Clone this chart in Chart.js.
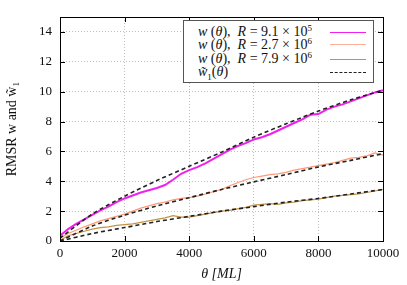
<!DOCTYPE html>
<html>
<head>
<meta charset="utf-8">
<script src="https://cdn.jsdelivr.net/npm/chart.js@4/dist/chart.umd.min.js"></script>
<style>
  html, body { margin: 0; padding: 0; background: #fff; }
  #wrap { position: relative; width: 407px; height: 285px; }
  #legend {
    position: absolute; left: 183px; top: 20px; width: 189px; height: 61px;
    border: 1px solid #555; background: #fff;
    font-family: "Liberation Serif", serif; font-size: 14px; color: #111;
  }
  .row { position: absolute; left: 14px; height: 13px; line-height: 13px; white-space: nowrap; }
  .smp { position: absolute; left: 146px; width: 36px; height: 0; }
  sup { font-size: 9px; vertical-align: 5px; line-height: 0; }
</style>
</head>
<body>
<div id="wrap">
  <canvas id="c" width="407" height="285"></canvas>
  <div id="legend">
    <div class="row" style="top:4px"><i>w</i> (<i>θ</i>), &nbsp;<i>R</i> = 9.1 × 10<sup>5</sup></div>
    <div class="smp" style="top:11px;border-top:1.5px solid #f020f0"></div>
    <div class="row" style="top:17px"><i>w</i> (<i>θ</i>), &nbsp;<i>R</i> = 2.7 × 10<sup>6</sup></div>
    <div class="smp" style="top:23px;border-top:1.5px solid #ffb09a"></div>
    <div class="row" style="top:31px"><i>w</i> (<i>θ</i>), &nbsp;<i>R</i> = 7.9 × 10<sup>6</sup></div>
    <div class="smp" style="top:38px;border-top:1.5px solid #c39446"></div>
    <div class="row" style="top:44px"><i>w̃</i><sub style="font-size:9px">1</sub>(<i>θ</i>)</div>
    <div class="smp" style="top:51px;border-top:1.5px dashed #222"></div>
  </div>
</div>
<script>
// theta positions (ML) and RMSR values
const thetaA = [0,250,500,750,1000,1250,1500,1750,2000,2250,2500,2750,3000,3250,3500,3750,4000,4250,4500,4750,5000,5250,5500,5750,6000,6250,6500,6750,7000,7250,7500,7750,8000,8250,8500,8750,9000,9250,9500,9750,10000];
const wR1 = [0.35,0.8,1.15,1.45,1.75,2.05,2.3,2.6,2.85,3.05,3.25,3.4,3.55,3.75,4.1,4.5,4.75,4.95,5.2,5.5,5.8,6.1,6.35,6.55,6.8,6.95,7.15,7.4,7.65,7.9,8.15,8.45,8.5,8.8,9.0,9.15,9.35,9.55,9.75,9.95,10.1];
const wR2 = [0.2,0.5,0.72,0.95,1.15,1.35,1.5,1.65,1.8,2.0,2.2,2.35,2.5,2.6,2.75,2.85,2.9,3.0,3.15,3.3,3.45,3.7,3.9,4.1,4.25,4.35,4.45,4.5,4.6,4.75,4.85,4.95,5.05,5.15,5.25,5.4,5.55,5.6,5.7,5.9,5.75];
const wR3 = [0.05,0.35,0.5,0.65,0.8,0.9,0.95,1.05,1.1,1.15,1.25,1.35,1.45,1.55,1.7,1.6,1.6,1.7,1.8,1.9,2.0,2.05,2.15,2.25,2.4,2.45,2.5,2.45,2.55,2.6,2.7,2.75,2.8,2.9,3.0,3.05,3.1,3.15,3.25,3.35,3.45];

const thetaB = [0,1000,2000,3000,4000,5000,6000,7000,8000,9000,10000];
const fitR1 = [0.2,1.8,3.0,4.05,5.0,5.95,6.95,7.85,8.7,9.45,10.1];
const fitR2 = [0.0,1.0,1.73,2.35,2.9,3.45,3.96,4.45,4.96,5.4,5.85];
const fitR3 = [0.0,0.5,0.9,1.3,1.65,2.0,2.3,2.6,2.85,3.15,3.45];

const yTicks = [0,2,4,6,8,10,12,14];
const xTicks = [0,2000,4000,6000,8000,10000];

const pts = (xs, ys) => xs.map((x,i)=>({x:x, y:ys[i]}));
const serif = 'Liberation Serif';

function dashed(data){
  return { data: pts(thetaB, data), borderColor:'#222', borderWidth:1.6, borderDash:[4,3], pointRadius:0, tension:0.3, order:0 };
}

// box + inward ticks like gnuplot
const frame = {
  id: 'frame',
  afterDraw(chart){
    const {ctx, chartArea:a, scales} = chart;
    ctx.save();
    ctx.strokeStyle = '#000';
    ctx.lineWidth = 1;
    ctx.beginPath();
    xTicks.forEach(v=>{
      const x = Math.round(scales.x.getPixelForValue(v))+0.5;
      ctx.moveTo(x, a.bottom); ctx.lineTo(x, a.bottom-5);
      ctx.moveTo(x, a.top); ctx.lineTo(x, a.top+5);
    });
    yTicks.forEach(v=>{
      const y = Math.round(scales.y.getPixelForValue(v))+0.5;
      ctx.moveTo(a.left, y); ctx.lineTo(a.left+5, y);
      ctx.moveTo(a.right, y); ctx.lineTo(a.right-5, y);
    });
    ctx.stroke();
    ctx.strokeRect(Math.round(a.left)+0.5, Math.round(a.top)+0.5, Math.round(a.right-a.left), Math.round(a.bottom-a.top));
    ctx.restore();
  }
};

function draw(){
  new Chart(document.getElementById('c'), {
    type: 'line',
    data: {
      datasets: [
        { data: pts(thetaA, wR1), borderColor:'#f020f0', borderWidth:2, pointRadius:0, order:3 },
        { data: pts(thetaA, wR2), borderColor:'#ff9878', borderWidth:1.2, pointRadius:0, order:2 },
        { data: pts(thetaA, wR3), borderColor:'#c39446', borderWidth:1.2, pointRadius:0, order:1 },
        dashed(fitR1), dashed(fitR2), dashed(fitR3)
      ]
    },
    options: {
      responsive: false,
      animation: false,
      layout: { padding: { top: 17, right: 24, left: 4, bottom: 2 } },
      plugins: { legend: { display:false }, tooltip: { enabled:false } },
      scales: {
        x: {
          type: 'linear', min: 0, max: 10000,
          afterBuildTicks: s => { s.ticks = xTicks.map(v=>({value:v})); },
          ticks: { color:'#111', font:{ family: serif, size: 13 }, padding: 5, maxRotation: 0, callback: v => String(v) },
          grid: { color:'#bdbdbd', drawTicks:false },
          border: { display:false, dash:[1,2] },
          title: { display:true, text:'θ [ML]', color:'#111', font:{ family: serif, size: 14, style:'italic' }, padding:{ top: 3, bottom: 0 } },
          afterFit: s => { s.height = 42; }
        },
        y: {
          min: 0, max: 15,
          afterBuildTicks: s => { s.ticks = yTicks.map(v=>({value:v})); },
          ticks: { color:'#111', font:{ family: serif, size: 13 }, padding: 8 },
          grid: { color:'#bdbdbd', drawTicks:false },
          border: { display:false, dash:[1,2] },
          title: { display:true, text:'RMSR w and w̃₁', color:'#111', font:{ family: serif, size: 14 }, padding:{ top: 0, bottom: 6 } },
          afterFit: s => { s.width = 56; }
        }
      }
    },
    plugins: [frame]
  });
}

document.fonts.load("13px 'Liberation Serif'").then(draw, draw);
</script>
</body>
</html>
